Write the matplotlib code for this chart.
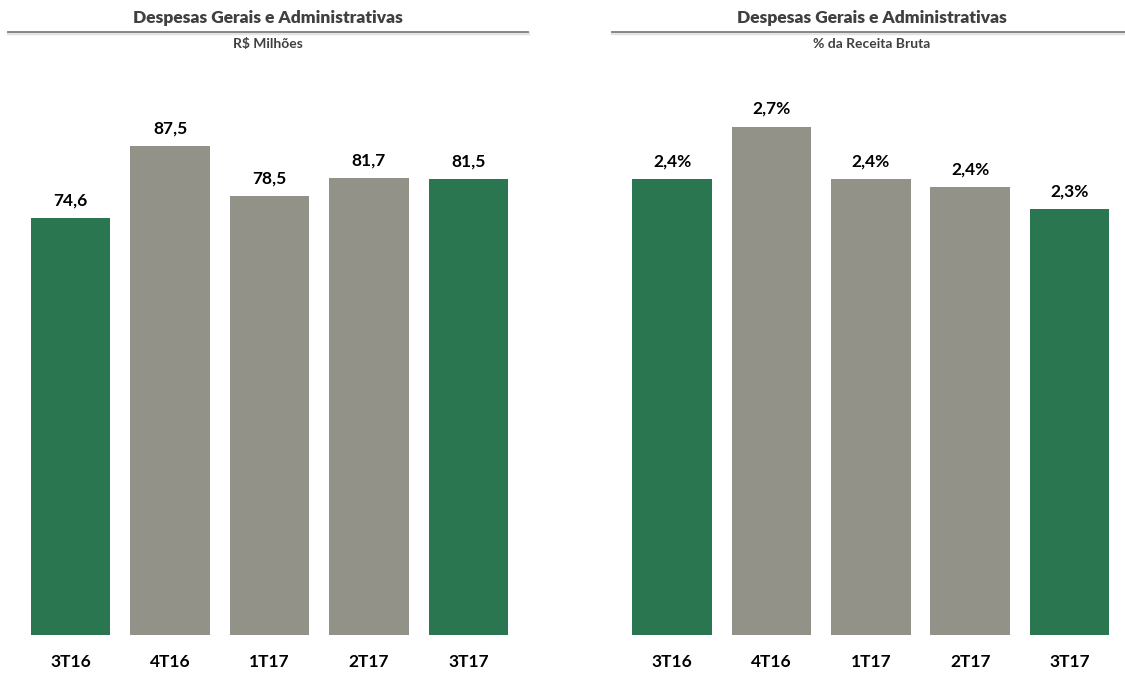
import matplotlib.pyplot as plt
from matplotlib.lines import Line2D

periods = ['3T16', '4T16', '1T17', '2T17', '3T17']
despesas_mi = [74.6, 87.5, 78.5, 81.7, 81.5]
despesas_pct = [2.42, 2.70, 2.42, 2.38, 2.26]

GREEN = '#2a7650'
GREY = '#929289'
TITLE_COLOR = '#404040'
bar_colors = [GREEN, GREY, GREY, GREY, GREEN]

plt.rcParams['font.family'] = ['Lato', 'DejaVu Sans']

fig = plt.figure(figsize=(11.25, 6.73), dpi=100)
W, H = 1125, 673


def px_axes(x0, x1, y_top, y_base):
    return fig.add_axes([x0 / W, (H - y_base) / H, (x1 - x0) / W, (y_base - y_top) / H])


def header(xc, x0, x1, subtitle):
    fig.text(xc / W, 1 - 18 / H, 'Despesas Gerais e Administrativas', ha='center', va='center',
             fontsize=12.5, fontweight='heavy', color=TITLE_COLOR)
    # rule under the title with a faint shadow
    fig.add_artist(Line2D([x0 / W, x1 / W], [1 - 33 / H, 1 - 33 / H], color='#e4e4e4', lw=2.5))
    fig.add_artist(Line2D([x0 / W, x1 / W], [1 - 31.5 / H, 1 - 31.5 / H], color='#7f7f7f', lw=1.3))
    fig.text(xc / W, 1 - 44 / H, subtitle, ha='center', va='center',
             fontsize=10, fontweight='bold', color='#404040')


def bars(ax, values, ymax, fmt):
    x = range(len(values))
    ax.bar(x, values, width=0.8, color=bar_colors)
    for i, v in zip(x, values):
        ax.annotate(fmt(v), (i, v), xytext=(0, 7), textcoords='offset points',
                    ha='center', va='bottom', fontsize=12.5, fontweight='bold', color='black')
    ax.set_xlim(-0.5, len(values) - 0.5)
    ax.set_ylim(0, ymax)
    ax.set_xticks(list(x))
    ax.set_xticklabels(periods, fontsize=12.5, fontweight='bold')
    ax.tick_params(axis='x', length=0, pad=14)
    ax.set_yticks([])
    for s in ax.spines.values():
        s.set_visible(False)


ax1 = px_axes(20.75, 518.25, 76, 635)
bars(ax1, despesas_mi, 100, lambda v: f'{v:.1f}'.replace('.', ','))
header(268, 8, 528, 'R$ Milhões')

ax2 = px_axes(622.3, 1119.3, 70, 635)
bars(ax2, despesas_pct, 3.0, lambda v: f'{v:.1f}%'.replace('.', ','))
header(872, 612, 1125, '% da Receita Bruta')

fig.savefig('out.png', dpi=100)
